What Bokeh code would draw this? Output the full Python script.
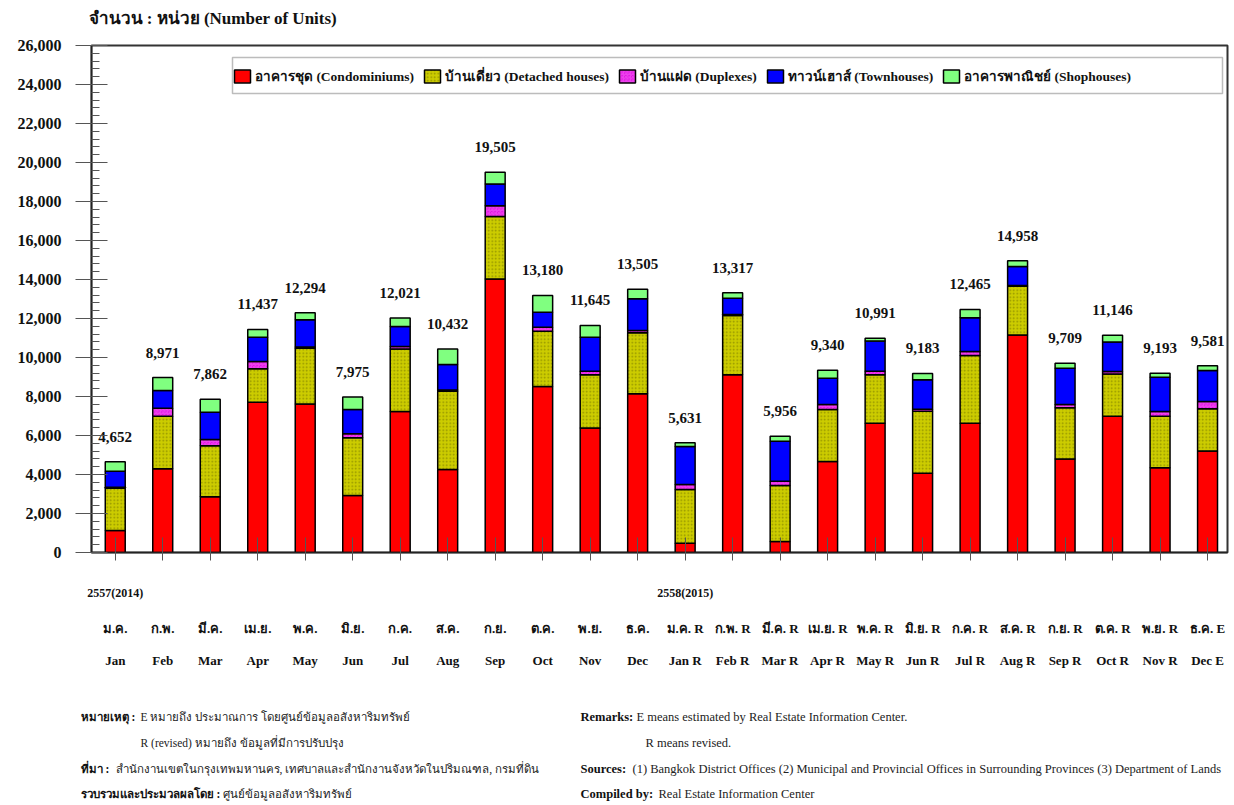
from bokeh.plotting import figure
from bokeh.layouts import column
from bokeh.models import (ColumnDataSource, Range1d, FixedTicker, NumeralTickFormatter, LinearAxis,
                          BoxAnnotation)
from bokeh.core.properties import value
from bokeh.embed import file_html
from bokeh.resources import INLINE

# ---------------- data ----------------
months_en = ["Jan", "Feb", "Mar", "Apr", "May", "Jun", "Jul", "Aug", "Sep", "Oct", "Nov", "Dec",
             "Jan R", "Feb R", "Mar R", "Apr R", "May R", "Jun R", "Jul R", "Aug R", "Sep R",
             "Oct R", "Nov R", "Dec E"]
months_th = ["ม.ค.", "ก.พ.", "มี.ค.", "เม.ย.", "พ.ค.", "มิ.ย.", "ก.ค.", "ส.ค.", "ก.ย.", "ต.ค.", "พ.ย.", "ธ.ค.",
             "ม.ค. R", "ก.พ. R", "มี.ค. R", "เม.ย. R", "พ.ค. R", "มิ.ย. R", "ก.ค. R", "ส.ค. R", "ก.ย. R",
             "ต.ค. R", "พ.ย. R", "ธ.ค. E"]
year_labels = ["2557(2014)", "2558(2015)"]
year_start_index = [0, 12]

condominiums = [1130, 4290, 2860, 7710, 7620, 2920, 7230, 4260, 14030, 8510, 6390, 8140,
                480, 9110, 560, 4670, 6630, 4070, 6630, 11160, 4800, 6990, 4340, 5200]
detached = [2170, 2700, 2610, 1710, 2860, 2960, 3210, 4010, 3200, 2840, 2720, 3130,
            2750, 3040, 2880, 2660, 2480, 3180, 3470, 2500, 2620, 2170, 2650, 2170]
duplexes = [50, 410, 320, 370, 60, 210, 120, 60, 550, 200, 190, 110,
            260, 60, 220, 260, 190, 100, 210, 30, 170, 120, 240, 370]
townhouses = [820, 910, 1400, 1250, 1390, 1240, 1030, 1310, 1120, 770, 1740, 1630,
              1950, 830, 2050, 1350, 1540, 1510, 1730, 980, 1860, 1510, 1760, 1590]
shophouses = [482, 661, 672, 397, 364, 645, 431, 792, 605, 860, 605, 495,
              191, 277, 246, 400, 151, 323, 425, 288, 259, 356, 203, 251]

series_names = ["อาคารชุด (Condominiums)", "บ้านเดี่ยว (Detached houses)", "บ้านแฝด (Duplexes)",
                "ทาวน์เฮาส์ (Townhouses)", "อาคารพาณิชย์ (Shophouses)"]

y_ticks = list(range(0, 26001, 2000))
y_minor = list(range(0, 26001, 400))

title_text = "จำนวน : หน่วย (Number of Units)"
remarks_left_bold = ["หมายเหตุ :", "ที่มา :", "รวบรวมและประมวลผลโดย :"]
remarks_left_text = ["E  หมายถึง ประมาณการ  โดยศูนย์ข้อมูลอสังหาริมทรัพย์",
                     "R (revised) หมายถึง ข้อมูลที่มีการปรับปรุง",
                     "สำนักงานเขตในกรุงเทพมหานคร, เทศบาลและสำนักงานจังหวัดในปริมณฑล, กรมที่ดิน",
                     "ศูนย์ข้อมูลอสังหาริมทรัพย์"]
remarks_right_bold = ["Remarks:", "Sources:", "Compiled by:"]
remarks_right_text = ["E means estimated by Real Estate Information Center.",
                      "R means  revised.",
                      "(1) Bangkok District Offices (2) Municipal and Provincial Offices in Surrounding Provinces (3) Department of Lands",
                      "Real Estate Information Center"]

# ---------------- build ----------------
FONT = "Liberation Serif"
W = 1232
H_TITLE = 36
H_MAIN = 659
H_NOTE = 108

x = list(range(len(months_en)))
stack_keys = ["condo", "detached", "duplex", "town", "shop"]
totals = [a + b + c + d + e for a, b, c, d, e in zip(condominiums, detached, duplexes, townhouses, shophouses)]
src = ColumnDataSource(dict(x=x, condo=condominiums, detached=detached, duplex=duplexes,
                            town=townhouses, shop=shophouses, total=totals,
                            total_txt=[f"{t:,}" for t in totals]))


def text_strip(height):
    f = figure(width=W, height=height, output_backend="svg", toolbar_location=None,
               x_range=Range1d(0, W), y_range=Range1d(height, 0),
               min_border=0, background_fill_color="white", border_fill_color="white")
    f.axis.visible = False
    f.grid.visible = False
    f.outline_line_color = None
    return f


# ---------------- title strip ----------------
t = text_strip(H_TITLE)
t.text(x=[88], y=[18], text=[title_text], text_font=value(FONT), text_font_style="bold",
       text_font_size="17px", text_color="#111111", text_baseline="middle", text_align="left")

# ---------------- main chart ----------------
p = figure(width=W, height=H_MAIN, output_backend="svg", toolbar_location=None,
           x_range=Range1d(-0.5, 23.42), y_range=Range1d(0, 26000),
           min_border_left=91, min_border_right=5, min_border_top=9, min_border_bottom=143,
           background_fill_color="white", border_fill_color="white")

# legend frame box (drawn before the legend itself)
p.add_layout(BoxAnnotation(left=141, right=1131, bottom=459, top=495,
                           left_units="screen", right_units="screen",
                           bottom_units="screen", top_units="screen",
                           fill_color="white", fill_alpha=1.0,
                           line_color="#222222", line_width=1.5, level="annotation"))

fills = ["#ff0000", "#cccc00", "#dd00dd", "#0000ff", "#80ff80"]
hatches = [" ", "dot", "criss_cross", " ", " "]
hatch_cols = ["#000000", "#5a5a00", "#ff88ff", "#000000", "#000000"]
p.vbar_stack(stack_keys, x="x", width=0.42, source=src,
             fill_color=fills, hatch_pattern=hatches, hatch_color=hatch_cols,
             hatch_scale=3.5, hatch_weight=1.0, hatch_alpha=0.5,
             line_color="black", line_width=1.5, legend_label=series_names)

p.text(x="x", y="total", text="total_txt", source=src, y_offset=-25,
       text_align="center", text_baseline="middle", text_font=value(FONT),
       text_font_style="bold", text_font_size="15px", text_color="#111111")

p.xgrid.visible = False
p.ygrid.visible = False
p.outline_line_color = "#333333"
p.outline_line_width = 2

# y axis
yax = p.yaxis[0]
yax.ticker = FixedTicker(ticks=y_ticks, minor_ticks=y_minor)
yax.formatter = NumeralTickFormatter(format="0,0")
yax.major_label_text_font = FONT
yax.major_label_text_font_style = "bold"
yax.major_label_text_font_size = "16px"
yax.major_label_text_color = "#111111"
yax.major_tick_in = 16
yax.major_tick_out = 16
yax.minor_tick_in = 8
yax.minor_tick_out = 0
yax.major_label_standoff = 14
yax.axis_line_width = 1.5
yax.axis_line_color = "#222222"
yax.major_tick_line_color = "#555555"
yax.minor_tick_line_color = "#555555"

# x axis (ticks only)
xax = p.xaxis[0]
xax.ticker = FixedTicker(ticks=x, minor_ticks=[])
xax.major_label_overrides = {i: "" for i in x}
xax.major_label_text_font_size = "0px"
xax.major_label_standoff = 0
xax.major_tick_in = 15
xax.major_tick_out = 8
xax.axis_line_width = 1.5
xax.axis_line_color = "#222222"
xax.major_tick_line_color = "#555555"


def label_axis(ticks, labels, standoff, size):
    ax = LinearAxis(ticker=FixedTicker(ticks=ticks, minor_ticks=[]),
                    major_label_overrides={tk: lb for tk, lb in zip(ticks, labels)},
                    axis_line_color=None, major_tick_line_color=None, minor_tick_line_color=None,
                    major_tick_in=0, major_tick_out=0, minor_tick_in=0, minor_tick_out=0,
                    major_label_standoff=standoff, major_label_text_font=FONT,
                    major_label_text_font_style="bold", major_label_text_font_size=size,
                    major_label_text_color="#111111")
    p.add_layout(ax, "below")
    return ax


label_axis(year_start_index, year_labels, 25, "12px")
label_axis(x, months_th, 18, "13px")
label_axis(x, months_en, 14, "13px")

# legend
lg = p.legend[0]
lg.orientation = "horizontal"
lg.location = (141, 465)
lg.label_text_font = FONT
lg.label_text_font_style = "bold"
lg.label_text_font_size = "13.5px"
lg.label_text_color = "#111111"
lg.glyph_width = 20
lg.glyph_height = 16
lg.label_standoff = 3
lg.spacing = 8
lg.padding = 9
lg.margin = 0
lg.border_line_color = None
lg.background_fill_alpha = 0.0

# ---------------- notes strip ----------------
q = text_strip(H_NOTE)

for fig in (t, p, q):
    if "frame_align" in fig.properties():
        fig.frame_align = False

rows_y = [21, 47, 73, 98]
bold_rows_y = [rows_y[0], rows_y[2], rows_y[3]]
left_bold_x = [80, 80, 80]
left_text_x = [140, 140, 115, 222]
right_bold_x = [580, 580, 580]
right_text_x = [636, 645, 632, 658]

q.text(x=left_bold_x, y=bold_rows_y, text=remarks_left_bold, text_font=value(FONT),
       text_font_style="bold", text_font_size="11.5px", text_color="#111111",
       text_baseline="middle", text_align="left")
q.text(x=left_text_x, y=rows_y, text=remarks_left_text, text_font=value(FONT),
       text_font_size="11.5px", text_color="#222222",
       text_baseline="middle", text_align="left")
q.text(x=right_bold_x, y=bold_rows_y, text=remarks_right_bold, text_font=value(FONT),
       text_font_style="bold", text_font_size="12.5px", text_color="#111111",
       text_baseline="middle", text_align="left")
q.text(x=right_text_x, y=rows_y, text=remarks_right_text, text_font=value(FONT),
       text_font_size="12.5px", text_color="#222222",
       text_baseline="middle", text_align="left")

layout = column(t, p, q, spacing=0)
open("out.html", "w").write(file_html(layout, INLINE))
